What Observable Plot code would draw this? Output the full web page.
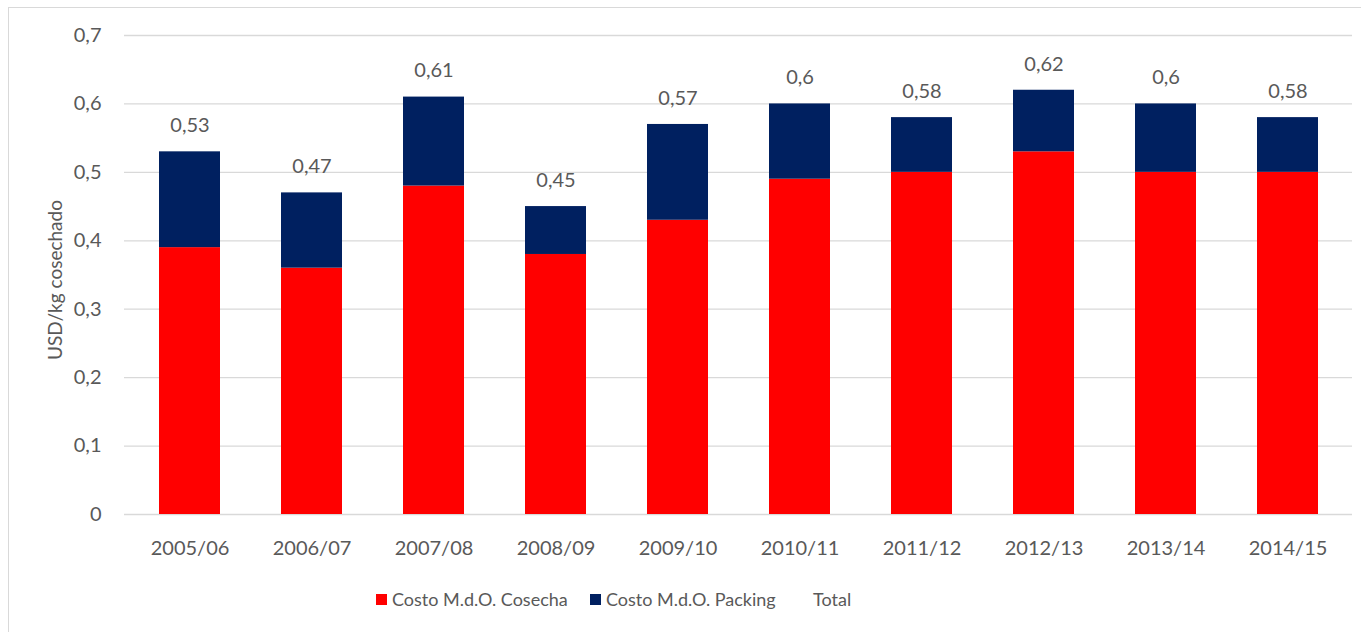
<!DOCTYPE html>
<html><head><meta charset="utf-8">
<script src="https://cdn.jsdelivr.net/npm/d3@7"></script>
<script src="https://cdn.jsdelivr.net/npm/@observablehq/plot@0.6"></script>
<style>
html,body{margin:0;padding:0;background:#fff;overflow:hidden;width:1361px;height:632px;position:relative}
#frame{position:absolute;left:8px;top:7px;width:1400px;height:700px;border:1px solid #d9d9d9;box-sizing:border-box}
#chart{position:absolute;left:0;top:0}
.item{position:absolute;top:588px;display:flex;align-items:center;font-family:Lato,sans-serif;font-size:18px;color:#595959;white-space:nowrap;height:22px}
.sw{width:11px;height:11px;margin-right:5px}
</style>
</head><body>
<div id="frame"></div>
<div id="chart"></div>
<div id="legend"></div>
<script>
const seasons = ["2005/06","2006/07","2007/08","2008/09","2009/10","2010/11","2011/12","2012/13","2013/14","2014/15"];
const cosecha = [0.39,0.36,0.48,0.38,0.43,0.49,0.50,0.53,0.50,0.50];
const total   = [0.53,0.47,0.61,0.45,0.57,0.60,0.58,0.62,0.60,0.58];
const seriesNames = ["Costo M.d.O. Cosecha","Costo M.d.O. Packing","Total"];
const seriesColors = ["#FF0000","#002060","transparent"];
const yTicks = [0,0.1,0.2,0.3,0.4,0.5,0.6,0.7];

const fmt = v => String(+v.toFixed(2)).replace(".", ",");
const rows = [];
seasons.forEach((s,i) => {
  rows.push({season:s, series:seriesNames[0], value:cosecha[i]});
  rows.push({season:s, series:seriesNames[1], value:+(total[i]-cosecha[i]).toFixed(2)});
});
const totals = seasons.map((s,i) => ({season:s, total:total[i]}));

const chart = Plot.plot({
  width:1361, height:570,
  marginLeft:124, marginRight:9, marginTop:35, marginBottom:56,
  style:{fontFamily:"Lato, sans-serif", fontSize:"20px", color:"#595959", background:"transparent"},
  x:{domain:seasons, paddingInner:0.5, paddingOuter:0.25, label:null},
  y:{domain:[0,0.7], label:null},
  color:{domain:seriesNames.slice(0,2), range:seriesColors.slice(0,2)},
  marks:[
    Plot.ruleY(yTicks, {stroke:"#d9d9d9", strokeWidth:1.3}),
    Plot.barY(rows, {x:"season", y:"value", fill:"series", order:seriesNames.slice(0,2)}),
    Plot.text(totals, {x:"season", y:"total", text:d => fmt(d.total), dy:-26, fill:"#595959", fontSize:20}),
    Plot.axisY(yTicks, {tickSize:0, tickPadding:23, tickFormat:fmt, fill:"#595959", fontSize:20}),
    Plot.axisX({tickSize:0, tickPadding:26, fill:"#595959", fontSize:20}),
    Plot.text(["USD/kg cosechado"], {frameAnchor:"left", textAnchor:"middle", dx:-69, dy:5, rotate:-90, text:d=>d, fill:"#595959", fontSize:19})
  ]
});
document.getElementById("chart").appendChild(chart);

const lg = document.getElementById("legend");
const lefts = [376, 590, 797];
seriesNames.forEach((n,i) => {
  const it = document.createElement("div"); it.className="item"; it.style.left = lefts[i] + "px";
  const sw = document.createElement("div"); sw.className="sw"; sw.style.background = seriesColors[i];
  const tx = document.createElement("span"); tx.textContent = n;
  it.appendChild(sw); it.appendChild(tx); lg.appendChild(it);
});
</script>
</body></html>
